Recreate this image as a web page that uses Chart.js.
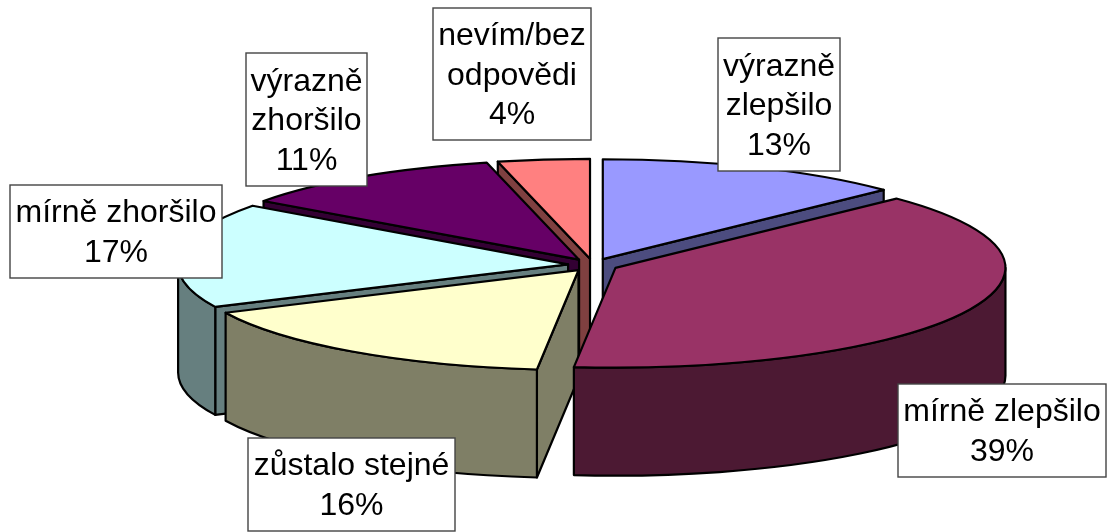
<!DOCTYPE html>
<html>
<head>
<meta charset="utf-8">
<style>html,body{margin:0;padding:0;background:#fff}canvas{display:block}</style>
<script src="https://cdn.jsdelivr.net/npm/chart.js@4"></script>
</head>
<body>
<canvas id="c" width="1107" height="532"></canvas>
<script>
const categories = ['výrazně zlepšilo','mírně zlepšilo','zůstalo stejné','mírně zhoršilo','výrazně zhoršilo','nevím/bez odpovědi'];
const values = [12.8,38.9,16.3,17,11.2,3.8];
const labelLines = [['výrazně','zlepšilo'],['mírně zlepšilo'],['zůstalo stejné'],['mírně zhoršilo'],['výrazně','zhoršilo'],['nevím/bez','odpovědi']];
const topColors = ['#9999FF','#993366','#FFFFCC','#CCFFFF','#660066','#FF8080'];
const wallColors = ['#4C4C7F','#4C1933','#7F7F66','#667F7F','#330033','#7F4040'];

const paintOrder = [5,0,4,3,2,1];
const labelBoxes = [[718,38,840,171],[898,384,1106,477],[248,438,455,531],[10,185,222,278],[246,53,367,186],[433,8,591,140]];
const tilt = 0.256, depth = 108, explode = 100, pieRadius = 390;

function geom(el){
  const p = el.getProps(['x','y','startAngle','endAngle','outerRadius'], true);
  const o = el.options.offset / 4, mid = (p.startAngle + p.endAngle) / 2;
  return {cx:p.x + o*Math.cos(mid), cy:p.y + o*tilt*Math.sin(mid), r:p.outerRadius, a0:p.startAngle, a1:p.endAngle, o};
}
function rim(g,a){ return [g.cx + g.r*Math.cos(a), g.cy + g.r*tilt*Math.sin(a)]; }
function cutFace(ctx,g,a,color){
  const q = rim(g,a);
  ctx.beginPath();
  ctx.moveTo(g.cx,g.cy); ctx.lineTo(q[0],q[1]); ctx.lineTo(q[0],q[1]+depth); ctx.lineTo(g.cx,g.cy+depth);
  ctx.closePath(); ctx.fillStyle = color; ctx.fill(); ctx.stroke();
}
function topPath(ctx,g){
  ctx.beginPath();
  ctx.moveTo(g.cx,g.cy);
  ctx.ellipse(g.cx,g.cy,g.r,g.r*tilt,0,g.a0,g.a1);
  ctx.closePath();
}
const pie3d = {
  id:'pie3d',
  beforeDatasetDraw(chart,args){
    const ctx = chart.ctx, els = args.meta.data;
    paintOrder.forEach(i=>{
      const el = els[i], g = geom(el);
      ctx.save();
      ctx.lineWidth = 2.2; ctx.strokeStyle = '#000'; ctx.lineJoin = 'round';
      if (Math.cos(g.a0) < -1e-6) cutFace(ctx,g,g.a0,wallColors[i]);
      if (Math.cos(g.a1) > 1e-6) cutFace(ctx,g,g.a1,wallColors[i]);
      const lo = Math.max(g.a0,0), hi = Math.min(g.a1,Math.PI);
      if (hi > lo){
        ctx.beginPath();
        ctx.ellipse(g.cx,g.cy,g.r,g.r*tilt,0,lo,hi);
        ctx.ellipse(g.cx,g.cy+depth,g.r,g.r*tilt,0,hi,lo,true);
        ctx.closePath(); ctx.fillStyle = wallColors[i]; ctx.fill(); ctx.stroke();
      }
      ctx.save();
      topPath(ctx,g); ctx.clip();
      ctx.translate(0,el.y); ctx.scale(1,tilt); ctx.translate(0,-el.y);
      el.draw(ctx, chart.chartArea);
      ctx.restore();
      topPath(ctx,g);
      ctx.fillStyle = topColors[i]; ctx.fill(); ctx.stroke();
      ctx.restore();
    });
    return false;
  },
  afterDraw(chart){
    const ctx = chart.ctx;
    ctx.save();
    ctx.font = '32px "Liberation Sans", Arial, sans-serif';
    ctx.textAlign = 'center'; ctx.textBaseline = 'alphabetic';
    categories.forEach((c,i)=>{
      const b = labelBoxes[i], w = b[2]-b[0], h = b[3]-b[1];
      ctx.fillStyle = '#fff'; ctx.fillRect(b[0],b[1],w,h);
      ctx.strokeStyle = '#444'; ctx.lineWidth = 1.4; ctx.strokeRect(b[0],b[1],w,h);
      const lines = labelLines[i].concat(Math.round(values[i]) + '%');
      const lh = 39.5, first = (b[1]+b[3])/2 + 10.5 - (lines.length-1)*lh/2;
      ctx.fillStyle = '#000';
      lines.forEach((t,j)=>ctx.fillText(t,(b[0]+b[2])/2,first+j*lh));
    });
    ctx.restore();
  }
};
new Chart(document.getElementById('c'),{
  type:'pie',
  data:{labels:categories,datasets:[{data:values,backgroundColor:topColors,borderWidth:0,offset:explode,radius:pieRadius}]},
  options:{
    responsive:false,animation:false,devicePixelRatio:1,events:[],
    layout:{padding:{left:79,right:0,top:0,bottom:2}},
    plugins:{legend:{display:false},tooltip:{enabled:false},title:{display:false}}
  },
  plugins:[pie3d]
});
</script>
</body>
</html>
